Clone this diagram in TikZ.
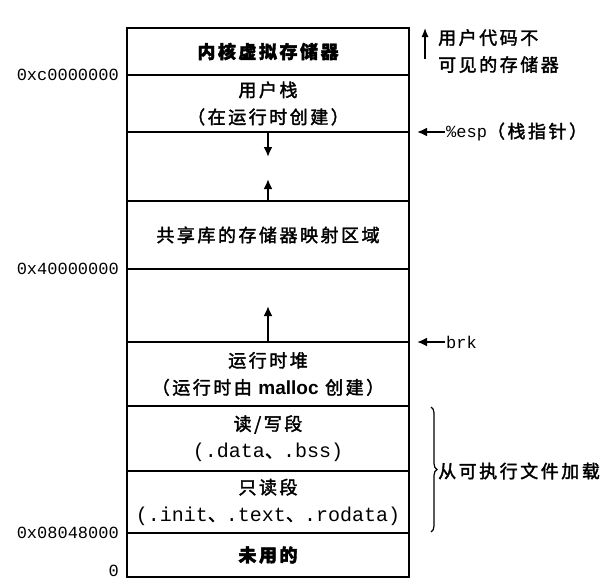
\documentclass[tikz,border=0pt]{standalone}
\usepackage{fontspec}
\setmainfont{Noto Sans CJK SC}[LetterSpace=14, FakeBold=2]
\setmonofont{Liberation Mono}
\newfontfamily\latin{Liberation Sans}
\usetikzlibrary{positioning,arrows.meta,decorations.pathreplacing}
\newcommand{\segfont}{\fontsize{18}{27}\selectfont}
\newcommand{\addrfont}{\fontsize{17}{20}\selectfont\ttfamily}
\newcommand{\codefont}{\fontsize{20}{20}\selectfont\ttfamily}

\tikzset{
seg/.style={draw, line width=2.3pt, minimum width=282pt, inner sep=0pt, outer sep=0pt,
  anchor=north west, align=center, font=\segfont},
ptr/.style={-{Latex[length=10pt,width=9pt]}, line width=2pt},
thinptr/.style={-{Latex[length=9pt,width=7pt]}, line width=1.2pt},
lbl/.style={font=\segfont, inner sep=1pt, align=left},
addr/.style={font=\addrfont, inner sep=0pt}
}

\begin{document}
\begin{tikzpicture}[x=1pt, y=-1pt]
\useasboundingbox (0,0) rectangle (608,587);

% the address space, top to bottom
\node[seg, minimum height=47pt] (kern) at (127,28) {\bfseries 内核虚拟存储器};
\node[seg, minimum height=57pt] (ustack) at (kern.south west) {用户栈\\（在运行时创建）};
\node[seg, minimum height=69pt] (gapa) at (ustack.south west) {};
\node[seg, minimum height=68pt] (shlib) at (gapa.south west) {共享库的存储器映射区域};
\node[seg, minimum height=73pt] (gapb) at (shlib.south west) {};
\node[seg, minimum height=64pt] (heap) at (gapb.south west)
  {运行时堆\\（运行时由 {\latin\bfseries\fontsize{19}{20}\selectfont malloc} 创建）};
\node[seg, minimum height=65pt] (rwseg) at (heap.south west)
  {读/写段\\{\codefont(.data}、{\codefont.bss)}};
\node[seg, minimum height=62pt] (roseg) at (rwseg.south west)
  {只读段\\{\codefont(.init}、{\codefont.text}、{\codefont.rodata)}};
\node[seg, minimum height=44pt] (unused) at (roseg.south west) {\bfseries 未用的};

% growth arrows
\coordinate[below=25pt of ustack.south] (stdn);
\draw[ptr] (ustack.south) -- (stdn);
\coordinate[above=22pt of shlib.north] (shup);
\draw[ptr] (shlib.north) -- (shup);
\coordinate[above=36pt of heap.north] (hpup);
\draw[ptr] (heap.north) -- (hpup);

% addresses
\node[addr, left=8pt of kern.south west] (adra) {0xc0000000};
\node[addr, left=8pt of shlib.south west] (adrb) {0x40000000};
\node[addr, left=8pt of roseg.south west] (adrc) {0x08048000};
\node[addr, left=8pt of unused.south west, anchor=south east] (adrd) {0};

% right side notes
\node[lbl, right=28pt of kern.north east, anchor=north west] (ukn) {用户代码不\\可见的存储器};
\coordinate (ukntop) at ([xshift=-12pt]ukn.north west);
\coordinate (uknbot) at ([xshift=-12pt, yshift=-31pt]ukn.north west);
\draw[thinptr] (uknbot) -- (ukntop);

\node[lbl, right=36pt of ustack.south east, anchor=west] (esp) {{\addrfont\%esp}（栈指针）};
\coordinate[right=8pt of ustack.south east] (esptip);
\draw[ptr] (esp.west) -- (esptip);

\node[lbl, right=36pt of heap.north east, anchor=west] (brk) {{\addrfont brk}};
\coordinate[right=8pt of heap.north east] (brktip);
\draw[ptr] (brk.west) -- (brktip);

\coordinate (brtop) at ([xshift=22pt, yshift=-1pt]rwseg.north east);
\coordinate (brbot) at ([xshift=22pt, yshift=1pt]roseg.south east);
\draw[decorate, decoration={brace, amplitude=6pt}, line width=1.2pt] (brtop) -- (brbot);
\node[lbl, right=28pt of rwseg.south east, anchor=west] (load) {从可执行文件加载};
\end{tikzpicture}
\end{document}
